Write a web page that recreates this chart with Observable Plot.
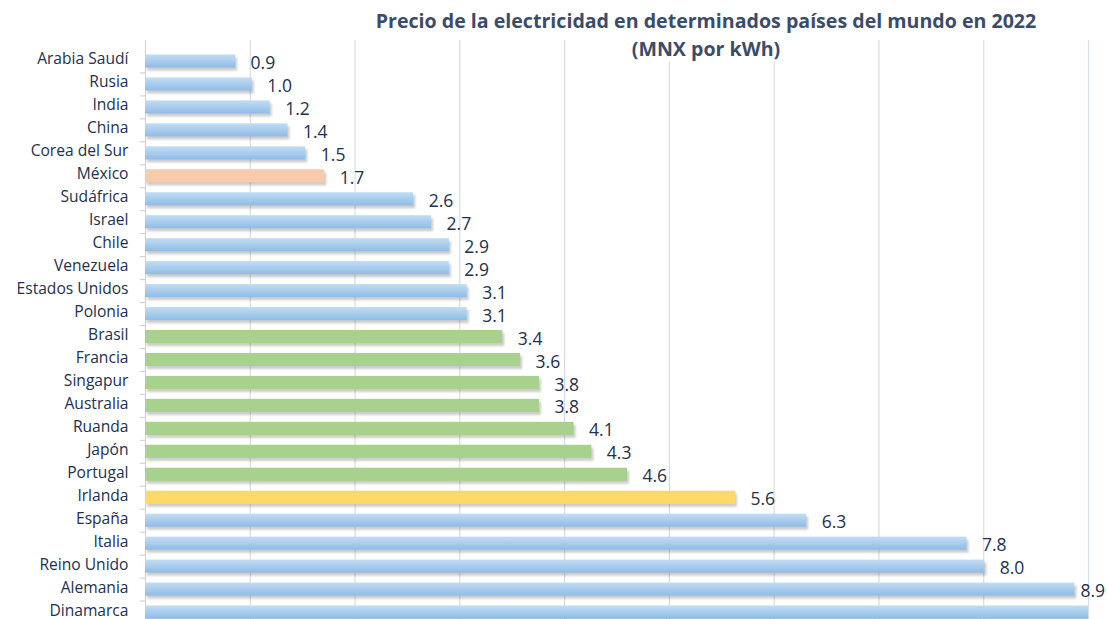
<!DOCTYPE html>
<html>
<head>
<meta charset="utf-8">
<script src="https://cdn.jsdelivr.net/npm/d3@7"></script>
<script src="https://cdn.jsdelivr.net/npm/@observablehq/plot@0.6"></script>
<style>
  html, body { margin: 0; padding: 0; background: #fff; }
  #wrap { position: relative; width: 1108px; height: 619px; overflow: hidden; font-family: "Open Sans", sans-serif; }
  #title { position: absolute; left: 206px; width: 1000px; top: 7px; text-align: center; font-weight: 700; font-size: 19.6px; line-height: 28px; color: #3B4C6B; z-index: 2; }
  #title span { background: #fff; }
</style>
</head>
<body>
<svg width="0" height="0" style="position:absolute">
  <defs>
    <linearGradient id="blueGrad" x1="0" y1="0" x2="0" y2="1">
      <stop offset="0" stop-color="#C3DDF4"/>
      <stop offset="1" stop-color="#8FBCE6"/>
    </linearGradient>
  </defs>
</svg>
<div id="wrap">
  <div id="title"><span>Precio de la electricidad en determinados países del mundo en 2022</span><br><span>(MNX por kWh)</span></div>
</div>
<script>
const countries = ["Arabia Saudí", "Rusia", "India", "China", "Corea del Sur", "México", "Sudáfrica", "Israel", "Chile", "Venezuela", "Estados Unidos", "Polonia", "Brasil", "Francia", "Singapur", "Australia", "Ruanda", "Japón", "Portugal", "Irlanda", "España", "Italia", "Reino Unido", "Alemania", "Dinamarca"];
const prices = [0.86, 1.02, 1.19, 1.36, 1.53, 1.71, 2.56, 2.73, 2.90, 2.90, 3.07, 3.07, 3.41, 3.58, 3.76, 3.76, 4.09, 4.26, 4.60, 5.63, 6.31, 7.84, 8.01, 8.87, 10.2];
const groups = ["azul", "azul", "azul", "azul", "azul", "naranja", "azul", "azul", "azul", "azul", "azul", "azul", "verde", "verde", "verde", "verde", "verde", "verde", "verde", "amarillo", "azul", "azul", "azul", "azul", "azul"];
const gridTicks = [1, 2, 3, 4, 5, 6, 7, 8, 9];

const palette = {azul: "url(#blueGrad)", naranja: "#F8CBAD", verde: "#A9D18E", amarillo: "#FFD966"};
const data = countries.map((c, i) => ({country: c, price: prices[i], group: groups[i]}));
const xMax = 9;
const labelMax = 8.78;
const labelData = data.filter(d => d.price <= xMax);

const chart = Plot.plot({
  width: 1108,
  height: 619,
  marginLeft: 145,
  marginRight: 20,
  marginTop: 40,
  marginBottom: 0,
  style: {fontFamily: "Open Sans, sans-serif", background: "transparent"},
  x: {domain: [0, xMax], axis: null},
  y: {domain: countries, range: [49.5, 623.5], round: false, paddingInner: 0.43, paddingOuter: 0.215, axis: null},
  color: {type: "identity"},
  marks: [
    Plot.gridX(gridTicks, {stroke: "#D6DCE6", strokeOpacity: 1, strokeWidth: 1.2}),
    Plot.ruleX([0], {stroke: "#D0D5DE", strokeWidth: 1.2}),
    Plot.ruleY(countries, {y: d => d, x1: -0.05, x2: 0, stroke: "#C8CDD6", dy: 11.5}),
    Plot.barX(data, {y: "country", x: "price", fill: "#555", fillOpacity: 0.3, dx: 2, dy: 3, clip: true, imageFilter: "blur(1px)"}),
    Plot.barX(data, {y: "country", x: "price", fill: d => palette[d.group], clip: true}),
    Plot.text(labelData, {y: "country", x: d => Math.min(d.price, labelMax), text: d => d.price.toFixed(1), textAnchor: "start", dx: 15, dy: 2, fontSize: 17.5, fill: "#22314F"}),
    Plot.axisY({tickSize: 0, tickPadding: 17, fontSize: 15.6, dy: -2, fill: "#22314F", label: null})
  ]
});
document.getElementById("wrap").appendChild(chart);
</script>
</body>
</html>
